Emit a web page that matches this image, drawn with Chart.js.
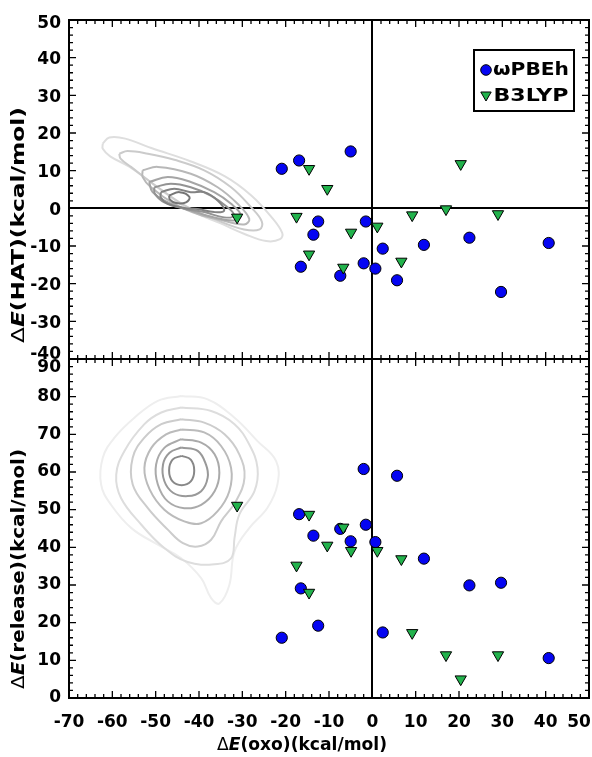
<!DOCTYPE html>
<html>
<head>
<meta charset="utf-8">
<script src="https://cdn.jsdelivr.net/npm/chart.js@4.4.1/dist/chart.umd.min.js"></script>
<style>
  html, body { margin: 0; padding: 0; background: #fff; }
  canvas { display: block; }
</style>
</head>
<body>
<canvas id="chart" width="592" height="757"></canvas>
<script>
// axis ranges and tick labels
const oxoTicks = [-70, -60, -50, -40, -30, -20, -10, 0, 10, 20, 30, 40, 50]
const hatTicks = [-40, -30, -20, -10, 0, 10, 20, 30, 40, 50]
const releaseTicks = [0, 10, 20, 30, 40, 50, 60, 70, 80, 90]

// wPBEh: dE(oxo), dE(HAT), dE(release)
const pbehOxo = [-20.9, -16.9, -5.0, -12.5, -13.6, -1.5, -2.0, 2.4, 11.9, -16.5, 0.7, -7.4, 5.7, 22.4, 40.7, 29.7]
const pbehHat = [10.5, 12.7, 15.1, -3.5, -7.0, -3.5, -14.6, -10.7, -9.7, -15.5, -16.0, -17.9, -19.1, -7.8, -9.2, -22.2]
const pbehRelease = [16.0, 48.8, 41.6, 19.2, 43.1, 46.0, 60.8, 17.4, 37.0, 29.1, 41.4, 44.9, 59.0, 29.9, 10.6, 30.6]

// B3LYP
const b3lypOxo = [-31.2, -14.6, -14.6, -10.4, -17.5, -4.9, 1.15, 9.2, -6.7, 6.7, 20.4, 17.0, 29.0]
const b3lypHat = [-2.4, 10.5, -12.2, 5.2, -2.2, -6.4, -4.8, -1.8, -15.7, -14.1, 11.8, -0.2, -1.5]
const b3lypRelease = [51.1, 48.7, 28.0, 40.5, 35.2, 39.1, 39.1, 17.3, 45.3, 36.9, 5.0, 11.4, 11.4]

// density contours, outermost first
const hatC1 = [[-62.2, 17.2], [-60.7, 18.8], [-57, 18.5], [-51, 16], [-42, 12.5], [-34, 8.5], [-28, 3.5], [-23.5, -2], [-20.8, -6.5], [-21.3, -8.2], [-24.5, -8.7], [-29.5, -6.8], [-35, -4], [-42, -0.5], [-49.5, 5.5], [-56, 11], [-60.5, 13.8], [-62.2, 15.8], [-62.2, 17.2]]
const hatC2 = [[-58.4, 14.5], [-56.5, 15.2], [-51.8, 14.5], [-45.7, 12.9], [-38.8, 10.1], [-32.6, 5.6], [-28, 0.3], [-25.5, -3.5], [-26, -5.6], [-29.6, -5.6], [-35.7, -3.2], [-42.6, 0.3], [-49.5, 5.6], [-55.7, 11], [-58.1, 13.2], [-58.4, 14.5]]
const hatC3 = [[-53, 10.1], [-49.5, 11], [-41.9, 9.2], [-35.7, 5.6], [-31.1, 1.2], [-28.4, -2.8], [-29.6, -4.3], [-34.2, -3.3], [-40.3, -1.5], [-45.7, 1.2], [-51.1, 5.6], [-53, 8.3], [-53, 10.1]]
const hatC4 = [[-51.5, 7], [-47.2, 8.3], [-41.9, 7], [-36.5, 4.3], [-32.6, 1.2], [-30.3, -1.9], [-31.9, -3.2], [-36.5, -2.4], [-41.9, -0.6], [-47.2, 1.6], [-50.7, 4.3], [-51.5, 7]]
const hatC5 = [[-50.3, 5.6], [-46.5, 6.5], [-41.9, 5.6], [-37.3, 3.4], [-33.4, 0.3], [-31.9, -1.9], [-34.2, -2.4], [-38.8, -1], [-43.4, -0.1], [-48, 1.6], [-50.2, 3.9], [-50.3, 5.6]]
const hatC6 = [[-48.8, 4.3], [-45.7, 5.2], [-41.9, 4.3], [-38.8, 4.3], [-35.7, 2.1], [-34.2, -0.6], [-36.5, -1], [-40.3, -0.2], [-43.4, 0.1], [-47.2, 1.2], [-48.8, 2.8], [-48.8, 4.3]]
const hatC7 = [[-46.9, 3.4], [-44.5, 4.3], [-42.2, 3], [-43, 1.6], [-45.3, 1.4], [-46.7, 2.3], [-46.9, 3.4]]

const relC1 = [[-44.1, 80.2], [-38.0, 79.3], [-31.8, 74.4], [-26.5, 68.2], [-22.2, 62.9], [-21.9, 56.7], [-24.2, 50.5], [-28.4, 45.1], [-31.8, 38.9], [-33.0, 30.0], [-35.3, 25.1], [-37.2, 26.5], [-39.5, 31.8], [-44.1, 37.1], [-49.5, 40.7], [-55.6, 45.1], [-60.3, 51.3], [-62.6, 56.7], [-62.2, 63.8], [-59.5, 69.1], [-54.9, 74.4], [-49.5, 78.9], [-44.1, 80.2]]
const relC2 = [[-44.1, 77.1], [-37.2, 76.2], [-31.8, 72.7], [-28.4, 67.3], [-26.5, 61.1], [-27.2, 54.9], [-30.7, 48.7], [-31.8, 42.5], [-32.6, 37.1], [-36.4, 35.5], [-42.6, 36.1], [-48.0, 39.8], [-53.3, 46.0], [-58.0, 53.1], [-59.1, 59.3], [-57.2, 65.6], [-52.6, 72.7], [-48.7, 75.8], [-44.1, 77.1]]
const relC3 = [[-44.1, 74.0], [-38.8, 73.1], [-34.1, 70.0], [-30.7, 64.7], [-29.5, 58.5], [-31.5, 52.2], [-34.9, 46.9], [-37.2, 42.0], [-40.3, 40.2], [-43.7, 41.1], [-47.2, 44.7], [-51.8, 50.4], [-55.3, 56.7], [-55.3, 63.8], [-52.6, 69.1], [-48.7, 72.7], [-44.1, 74.0]]
const relC4 = [[-44.1, 71.3], [-38.8, 70.5], [-34.9, 66.9], [-32.6, 61.1], [-33.0, 54.9], [-35.7, 49.6], [-39.5, 46.4], [-43.4, 46.9], [-48.0, 50.0], [-51.4, 55.4], [-52.6, 61.1], [-51.0, 66.4], [-47.6, 70.0], [-44.1, 71.3]]
const relC5 = [[-44.1, 68.7], [-39.5, 67.8], [-36.4, 64.7], [-35.3, 59.8], [-36.4, 54.9], [-39.5, 51.3], [-43.4, 50.4], [-47.2, 52.2], [-49.5, 56.7], [-49.9, 62.0], [-48.0, 66.4], [-44.1, 68.7]]
const relC6 = [[-44.1, 66.5], [-40.3, 65.6], [-38.4, 62.0], [-38.0, 58.5], [-39.5, 54.9], [-42.6, 53.6], [-46.0, 54.5], [-48.0, 57.6], [-48.3, 62.0], [-46.8, 65.1], [-44.1, 66.5]]
const relC7 = [[-44, 64.3], [-41.9, 63.3], [-41.1, 60.4], [-41.9, 57.5], [-44, 56.5], [-46.1, 57.5], [-46.9, 60.4], [-46.1, 63.3], [-44, 64.3]]

const hatContours = [hatC1, hatC2, hatC3, hatC4, hatC5, hatC6, hatC7]
const relContours = [relC1, relC2, relC3, relC4, relC5, relC6, relC7]
const hatGrays = ['#dedede', '#cbcbcb', '#b8b8b8', '#a5a5a5', '#939393', '#838383', '#767676']
const relGrays = ['#eeeeee', '#dddddd', '#cccccc', '#bbbbbb', '#aaaaaa', '#999999', '#888888']

const FONT = '"DejaVu Sans", sans-serif'
const BLUE = '#0505f2'
const GREEN = '#22b24c'

const zip = (xs, ys) => xs.map((x, i) => ({ x, y: ys[i] }))

const pointSet = (label, xs, ys, axis, isTri) => ({
  label,
  data: zip(xs, ys),
  yAxisID: axis,
  pointStyle: isTri ? 'triangle' : 'circle',
  rotation: isTri ? 180 : 0,
  pointRadius: isTri ? 6.5 : 5.6,
  backgroundColor: isTri ? GREEN : BLUE,
  borderColor: '#000',
  borderWidth: 1
})

const contourSet = (pts, color, axis) => ({
  data: pts,
  yAxisID: axis,
  showLine: true,
  pointRadius: 0,
  borderColor: color,
  borderWidth: 2,
  tension: 0.4,
  fill: false
})

const datasets = [
  pointSet('B3LYP', b3lypOxo, b3lypHat, 'yTop', true),
  pointSet('B3LYP', b3lypOxo, b3lypRelease, 'yBot', true),
  pointSet('ωPBEh', pbehOxo, pbehHat, 'yTop', false),
  pointSet('ωPBEh', pbehOxo, pbehRelease, 'yBot', false),
  ...hatContours.slice().reverse().map((c, i) => contourSet(c, hatGrays[hatGrays.length - 1 - i], 'yTop')),
  ...relContours.slice().reverse().map((c, i) => contourSet(c, relGrays[relGrays.length - 1 - i], 'yBot'))
]

const zeroLine = ctx => (ctx.tick && ctx.tick.value === 0 ? '#000' : 'rgba(0,0,0,0)')

function drawRich (ctx, parts, cx, cy, angle, length) {
  ctx.save()
  let total = 0
  parts.forEach(p => { ctx.font = p.font; p.w = ctx.measureText(p.text).width; total += p.w })
  const s = length ? length / total : 1
  ctx.translate(cx, cy)
  ctx.rotate(angle)
  ctx.scale(s, 1)
  ctx.textBaseline = 'middle'
  ctx.textAlign = 'left'
  ctx.fillStyle = '#000'
  let xx = -total / 2
  parts.forEach(p => { ctx.font = p.font; ctx.fillText(p.text, xx, 0); xx += p.w })
  ctx.restore()
}

const titleParts = rest => [
  { text: 'Δ', font: '17px ' + FONT },
  { text: 'E', font: 'italic bold 17px ' + FONT },
  { text: rest, font: 'bold 17px ' + FONT }
]

// frames, inward ticks, tick labels, legend and axis titles
const decorations = {
  id: 'decorations',
  afterDraw (chart) {
    const { ctx, chartArea, scales } = chart
    const x = scales.x
    const left = chartArea.left
    const right = chartArea.right
    ctx.save()
    ctx.strokeStyle = '#000'

    const panels = [
      { id: 'yTop', ticks: hatTicks, base: 2, shift: { 50: 4, '-40': -4 } },
      { id: 'yBot', ticks: releaseTicks, base: 0, shift: { 90: 9 } }
    ]
    panels.forEach(p => {
      const y = scales[p.id]
      const top = y.top
      const bottom = y.bottom
      ctx.lineWidth = 1.3
      ctx.beginPath()
      for (let v = y.min; v <= y.max; v += 2) {
        const py = y.getPixelForValue(v)
        const len = v % 10 === 0 ? 7 : 4
        ctx.moveTo(left, py); ctx.lineTo(left + len, py)
        ctx.moveTo(right, py); ctx.lineTo(right - len, py)
      }
      for (let v = x.min; v <= x.max; v += 2) {
        const px = x.getPixelForValue(v)
        const len = v % 10 === 0 ? 7 : 4
        ctx.moveTo(px, top); ctx.lineTo(px, top + len)
        ctx.moveTo(px, bottom); ctx.lineTo(px, bottom - len)
      }
      ctx.stroke()
      ctx.lineWidth = 2
      ctx.strokeRect(left, top, right - left, bottom - top)

      ctx.fillStyle = '#000'
      ctx.font = 'bold 17px ' + FONT
      ctx.textAlign = 'right'
      ctx.textBaseline = 'middle'
      p.ticks.forEach(v => {
        const dy = p.shift[v] !== undefined ? p.shift[v] : p.base
        ctx.fillText(String(v), 61, y.getPixelForValue(v) + dy)
      })
    })

    // x tick labels; the last one is pulled in to stay on the page
    ctx.textAlign = 'center'
    oxoTicks.forEach((v, i) => {
      const dx = i === oxoTicks.length - 1 ? -10 : 0
      ctx.fillText(String(v), x.getPixelForValue(v) + dx, 723)
    })

    // legend
    ctx.lineWidth = 2
    ctx.strokeRect(474, 50, 100, 61)
    ctx.lineWidth = 1
    ctx.fillStyle = BLUE
    ctx.beginPath()
    ctx.arc(486, 70, 5.3, 0, Math.PI * 2)
    ctx.fill(); ctx.stroke()
    ctx.fillStyle = GREEN
    ctx.beginPath()
    ctx.moveTo(486, 101)
    ctx.lineTo(480.8, 92)
    ctx.lineTo(491.2, 92)
    ctx.closePath()
    ctx.fill(); ctx.stroke()
    drawRich(ctx, [{ text: 'ωPBEh', font: 'bold 18px ' + FONT }], 531, 70, 0, 76)
    drawRich(ctx, [{ text: 'B3LYP', font: 'bold 18px ' + FONT }], 531, 96, 0, 75)

    // axis titles
    drawRich(ctx, titleParts('(HAT)(kcal/mol)'), 20, 225, -Math.PI / 2, 236)
    drawRich(ctx, titleParts('(release)(kcal/mol)'), 20, 569, -Math.PI / 2, 240)
    drawRich(ctx, titleParts('(oxo)(kcal/mol)'), 302, 746, 0, 170)
    ctx.restore()
  }
}

new Chart(document.getElementById('chart'), {
  type: 'scatter',
  data: { datasets },
  plugins: [decorations],
  options: {
    responsive: false,
    animation: false,
    devicePixelRatio: 1,
    events: [],
    layout: { autoPadding: false, padding: { top: 20, right: 3, left: 0, bottom: 0 } },
    plugins: { legend: { display: false }, tooltip: { enabled: false } },
    scales: {
      x: {
        type: 'linear',
        min: oxoTicks[0],
        max: oxoTicks[oxoTicks.length - 1],
        afterBuildTicks: s => { s.ticks = oxoTicks.map(v => ({ value: v })) },
        ticks: { display: false },
        grid: { color: zeroLine, lineWidth: 2, drawTicks: false },
        border: { display: false },
        afterFit: s => { s.height = 59; s.paddingLeft = 0; s.paddingRight = 0 }
      },
      yTop: {
        type: 'linear',
        position: 'left',
        stack: 'panels',
        stackWeight: 1,
        weight: 2,
        min: hatTicks[0],
        max: hatTicks[hatTicks.length - 1],
        afterBuildTicks: s => { s.ticks = hatTicks.map(v => ({ value: v })) },
        ticks: { display: false },
        grid: { color: zeroLine, lineWidth: 2, drawTicks: false },
        border: { display: false },
        afterFit: s => { s.width = 69; s.paddingTop = 0; s.paddingBottom = 0 }
      },
      yBot: {
        type: 'linear',
        position: 'left',
        stack: 'panels',
        stackWeight: 1,
        weight: 1,
        min: releaseTicks[0],
        max: releaseTicks[releaseTicks.length - 1],
        afterBuildTicks: s => { s.ticks = releaseTicks.map(v => ({ value: v })) },
        ticks: { display: false },
        grid: { display: false },
        border: { display: false },
        afterFit: s => { s.width = 69; s.paddingTop = 0; s.paddingBottom = 0 }
      }
    }
  }
})
</script>
</body>
</html>
